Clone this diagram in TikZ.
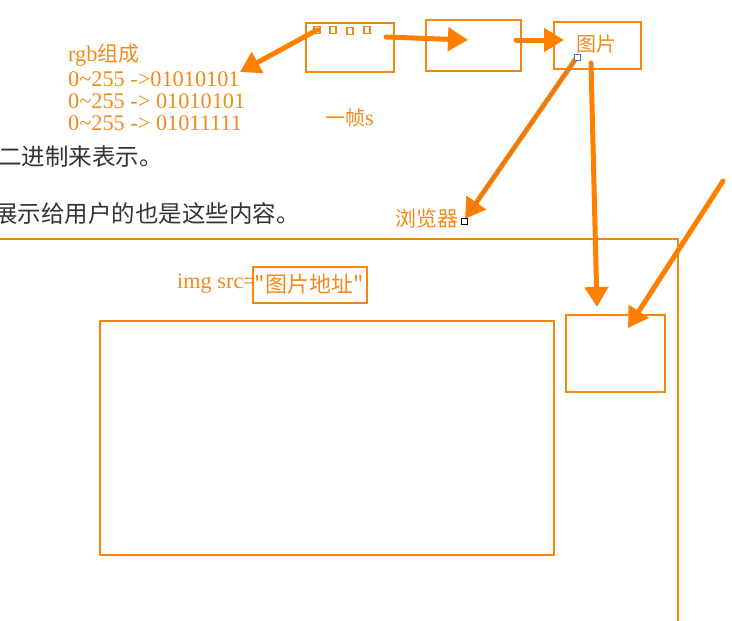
\documentclass[tikz,border=0pt]{standalone}
\usepackage{fontspec}
\setmainfont{Liberation Serif}
\newfontfamily\cjk{Noto Sans CJK SC}
\usetikzlibrary{arrows.meta,calc}
\definecolor{org}{HTML}{FF8000}
\definecolor{boxo}{HTML}{F7860F}
\definecolor{txto}{HTML}{F28A1A}
\definecolor{dark}{HTML}{333333}
\definecolor{selblue}{HTML}{3A7BD5}
\begin{document}
\begin{tikzpicture}[x=1pt,y=-1pt,
  box/.style={draw=boxo,line width=1.5pt,anchor=north west,inner sep=0pt},
  sq/.style={draw=boxo,line width=1.2pt,minimum width=6pt,minimum height=7pt,inner sep=0pt},
  bigarrow/.style={draw=org,line width=5pt,line cap=round,-{Triangle[length=20pt,width=23pt]}},
  otext/.style={text=txto,font=\fontsize{22.3}{24}\selectfont,anchor=west,inner sep=0pt},
  dtext/.style={text=dark,font=\cjk\fontsize{23.5}{26}\selectfont,anchor=west,inner sep=0pt},
  handle/.style={draw=black,fill=white,line width=0.8pt,minimum size=6pt,inner sep=0pt}
]
\useasboundingbox (0,0) rectangle (732,621);
\clip (0,0) rectangle (732,621);

% top boxes
\node[box,minimum width=88pt,minimum height=49pt] (A) at (305,22) {};
\node[box,minimum width=95pt,minimum height=51pt] (B) at (425,19) {};
\node[box,minimum width=87pt,minimum height=47pt] (C) at (553,21) {};
\node[text=txto,font=\cjk\fontsize{20}{22}\selectfont,inner sep=0pt] (Ct) at (596,44) {图片};
\node[sq] (s1) at (317,30) {};
\node[sq] (s2) at (333,30) {};
\node[sq] (s3) at (350,31) {};
\node[sq] (s4) at (367,30) {};

% texts
\node[otext] (t0) at (68,55) {rgb{\cjk\fontsize{21}{24}\selectfont 组成}};
\node[otext] (t1) at (68,79) {0\textasciitilde255 ->01010101};
\node[otext] (t2) at (68,101) {0\textasciitilde255 -> 01010101};
\node[otext] (t3) at (68,123) {0\textasciitilde255 -> 01011111};
\node[otext] (fr) at (325,118) {{\cjk\fontsize{20}{22}\selectfont 一帧}s};
\node[dtext] (d1) at (-2,157) {二进制来表示。};
\node[dtext] (d2) at (-6,214) {展示给用户的也是这些内容。};
\node[otext,font=\cjk\fontsize{21}{24}\selectfont] (br) at (395,219) {浏览器};

% frame
\coordinate (f1) at (0,239);
\coordinate (f2) at (678,239);
\coordinate (f3) at (678,625);
\draw[boxo,line width=1.5pt] (f1) -- (f2) -- (f3);

% img src
\node[otext] (src) at (177,284) {img src=};
\node[box,minimum width=114pt,minimum height=36pt] (P) at (252,266) {};
\node[text=txto,font=\cjk\fontsize{22}{24}\selectfont,inner sep=0pt] (Pt) at (309,284) {"图片地址"};

% lower boxes
\node[box,minimum width=454pt,minimum height=234pt] (E) at (99,320) {};
\node[box,minimum width=99pt,minimum height=77pt] (D) at (565,314) {};

% arrows
\coordinate (rgbend) at (240,72);
\draw[bigarrow] (s1.center) -- (rgbend);
\coordinate (a2s) at (386,37);
\coordinate (a2e) at (468,40);
\draw[bigarrow] (a2s) -- (a2e);
\coordinate (a3s) at (516,40);
\coordinate (a3e) at (564,40);
\draw[bigarrow] (a3s) -- (a3e);
\coordinate (a4s) at (577,57);
\coordinate (a4e) at (465,219);
\draw[bigarrow] (a4s) -- (a4e);
\draw[selblue,line width=1pt,dotted] (a4s) -- ($(a4s)!0.96!(a4e)$);
\node[handle,draw=selblue] (h1) at (a4s) {};
\node[handle] (h2) at (464,221) {};
\coordinate (a5s) at (591,63);
\coordinate (a5e) at (597,307);
\draw[bigarrow] (a5s) -- (a5e);
\coordinate (a6s) at (723,181);
\coordinate (a6e) at (628,328);
\draw[bigarrow] (a6s) -- (a6e);
\end{tikzpicture}
\end{document}
